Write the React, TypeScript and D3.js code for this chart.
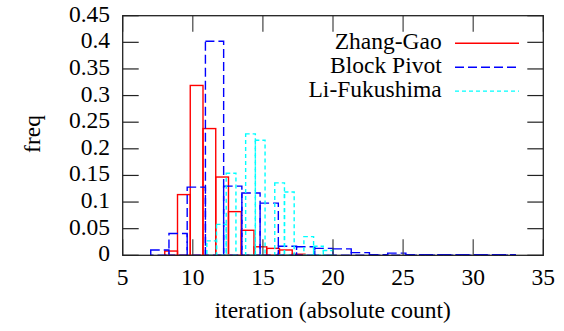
import React from "react";
import * as d3 from "d3";

const W = 564;
const H = 331;

const xTicks = [5, 10, 15, 20, 25, 30, 35];
const yTicks = [0, 0.05, 0.1, 0.15, 0.2, 0.25, 0.3, 0.35, 0.4, 0.45];
const yTickLabels = ["0", "0.05", "0.1", "0.15", "0.2", "0.25", "0.3", "0.35", "0.4", "0.45"];

// histogram ranges [start, end] and per-bin frequencies
const zhangRange = [8, 18];
const zhangFreq = [0.008, 0.114, 0.319, 0.238, 0.147, 0.082, 0.047, 0.016, 0.013, 0.01, 0.002];

const blockRange = [7, 33];
const blockFreq = [0.01, 0.041, 0.128, 0.402, 0.13, 0.117, 0.098, 0.017, 0.016, 0.013,
  0.012, 0.005, 0.001, 0.004, 0.001, 0.001, 0.001, 0.001, 0.001, 0.001];

const liRange = [11, 20];
const liFreq = [0.027, 0.058, 0.154, 0, 0.228, 0.216, 0, 0.136, 0.119, 0, 0.035, 0.017, 0.009];

const seriesNames = ["Zhang-Gao", "Block Pivot", "Li-Fukushima"];

const FONT = "Liberation Serif";

export default function App() {
  const left = 122.7, right = 543.3, top = 15.7, bottom = 255.3;
  const x = d3.scaleLinear().domain([5, 35]).range([left, right]);
  const y = d3.scaleLinear().domain([0, 0.45]).range([bottom, top]);

  const series = [
    { name: seriesNames[0], range: zhangRange, freq: zhangFreq, color: "#ff0000", dash: undefined },
    { name: seriesNames[1], range: blockRange, freq: blockFreq, color: "#0000ff", dash: "9,4" },
    { name: seriesNames[2], range: liRange, freq: liFreq, color: "#00ffff", dash: "4,3" },
  ];

  const tickLen = 16;
  const fs = 23.5;
  const ts = { fontFamily: FONT, fontSize: fs };

  return (
    <svg width={W} height={H} style={{ position: "absolute", left: 0, top: 0, background: "#fff" }}>
      {/* bars */}
      {series.map((s, si) => {
        const n = s.freq.length;
        const edge = d3.scaleLinear().domain([0, n]).range(s.range);
        return (
          <g key={si}>
            {s.freq.map((v, i) => {
              const x0 = x(edge(i));
              const x1 = x(edge(i + 1));
              const y0 = y(v);
              return (
                <rect key={i} x={x0} y={y0} width={x1 - x0} height={bottom - y0}
                  fill="none" stroke={s.color} strokeWidth={1.4}
                  strokeDasharray={s.dash} />
              );
            })}
          </g>
        );
      })}

      {/* ticks */}
      {xTicks.map((t, i) => (
        <g key={"xt" + i}>
          <line x1={x(t)} x2={x(t)} y1={bottom} y2={bottom - tickLen} stroke="#444" strokeWidth={1.2} />
          <line x1={x(t)} x2={x(t)} y1={top} y2={top + tickLen} stroke="#444" strokeWidth={1.2} />
          <text x={x(t)} y={285} textAnchor="middle" style={ts} fill="#000">{t}</text>
        </g>
      ))}
      {yTicks.map((t, i) => (
        <g key={"yt" + i}>
          <line x1={left} x2={left + tickLen} y1={y(t)} y2={y(t)} stroke="#222" strokeWidth={1.2} />
          <line x1={right} x2={right - tickLen} y1={y(t)} y2={y(t)} stroke="#222" strokeWidth={1.2} />
          <text x={110} y={y(t) + 6} textAnchor="end" style={ts} fill="#000">{yTickLabels[i]}</text>
        </g>
      ))}

      {/* frame */}
      <rect x={left} y={top} width={right - left} height={bottom - top} fill="none" stroke="#222" strokeWidth={1.3} />

      {/* legend */}
      {series.map((s, i) => {
        const ly = 43.3 + i * 23.9;
        return (
          <g key={"lg" + i}>
            <text x={441.7} y={ly + 6} textAnchor="end" style={ts} fill="#000">{s.name}</text>
            <line x1={455} x2={519} y1={ly} y2={ly} stroke={s.color} strokeWidth={1.4} strokeDasharray={s.dash} />
          </g>
        );
      })}

      {/* axis labels */}
      <text x={332.7} y={318} textAnchor="middle" style={ts} fill="#000">iteration (absolute count)</text>
      <text transform={`translate(39.5,134) rotate(-90)`} textAnchor="middle" style={ts} fill="#000">freq</text>
    </svg>
  );
}
